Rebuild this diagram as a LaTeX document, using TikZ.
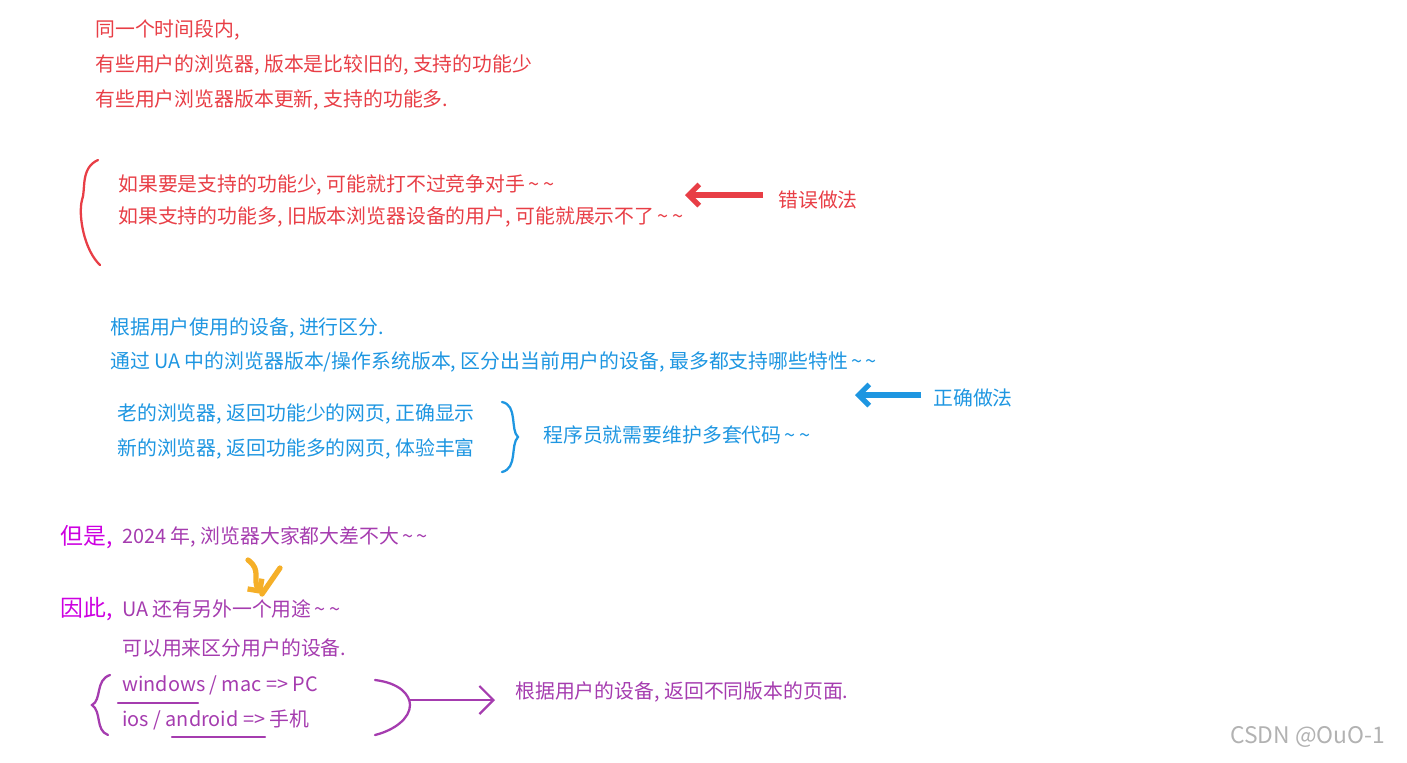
\documentclass[tikz,border=0pt]{standalone}
\usepackage{fontspec}
\setmainfont{Noto Sans CJK SC}
\usetikzlibrary{arrows.meta}
\definecolor{notered}{RGB}{232,62,70}
\definecolor{noteblue}{RGB}{30,150,225}
\definecolor{notepurple}{RGB}{165,60,175}
\definecolor{notemag}{RGB}{205,0,225}
\definecolor{noteorange}{RGB}{245,175,40}
\tikzset{
  txt/.style = {anchor=west, inner sep=0pt, font=\fontsize{11.3}{13}\selectfont},
  pen/.style = {line width=1.3pt, line cap=round}
}
\newcommand\tl{\,\textasciitilde\,\textasciitilde}
\begin{document}
\begin{tikzpicture}[x=0.02cm, y=-0.02cm]
\useasboundingbox (0,0) rectangle (1407,762);
% red part
\node (r1) [txt, notered] at (95,30) {同一个时间段内,};
\node (r2) [txt, notered] at (95,65) {有些用户的浏览器, 版本是比较旧的, 支持的功能少};
\node (r3) [txt, notered] at (95,100) {有些用户浏览器版本更新, 支持的功能多.};
\node (r4) [txt, notered] at (118,185) {如果要是支持的功能少, 可能就打不过竞争对手\tl};
\node (r5) [txt, notered] at (118,217) {如果支持的功能多, 旧版本浏览器设备的用户, 可能就展示不了\tl};
\node (wrong) [txt, notered] at (778,200) {错误做法};
\draw [pen, notered] (98,160) .. controls (80,168) and (86,190) .. (82,200) .. controls (78,215) and (84,250) .. (100,265);
\coordinate (wt) at (685,195);
\draw [notered, line width=3pt, -{Straight Barb[length=6pt]}] (wrong.west) ++(-15,-5) -- (wt);
% blue part
\node (b1) [txt, noteblue] at (110,328) {根据用户使用的设备, 进行区分.};
\node (b2) [txt, noteblue] at (110,362) {通过 UA 中的浏览器版本/操作系统版本, 区分出当前用户的设备, 最多都支持哪些特性\tl};
\node (right) [txt, noteblue] at (933,398) {正确做法};
\coordinate (rt) at (855,395);
\draw [noteblue, line width=3pt, -{Straight Barb[length=6pt]}] (right.west) ++(-12,-3) -- (rt);
\node (b3) [txt, noteblue] at (117,414) {老的浏览器, 返回功能少的网页, 正确显示};
\node (b4) [txt, noteblue] at (117,449) {新的浏览器, 返回功能多的网页, 体验丰富};
\draw [pen, noteblue] (502,402) .. controls (518,405) and (510,430) .. (518,437) .. controls (510,445) and (518,468) .. (502,472);
\node (b5) [txt, noteblue] at (543,435) {程序员就需要维护多套代码\tl};
% purple part
\node (but) [txt, notemag, font=\fontsize{13}{15}\selectfont] at (60,537) {但是,};
\node (p1) [txt, notepurple] at (122,537) {2024 年, 浏览器大家都大差不大\tl};
\node (so) [txt, notemag, font=\fontsize{13}{15}\selectfont] at (60,609) {因此,};
\node (p2) [txt, notepurple] at (122,609) {UA 还有另外一个用途\tl};
\draw [noteorange, line width=3pt, line cap=round, -{Straight Barb[length=5pt]}] (248,560) .. controls (262,570) and (252,580) .. (262,594);
\draw [noteorange, line width=3pt, line cap=round] (262,594) -- (280,568);
\node (p3) [txt, notepurple] at (122,648) {可以用来区分用户的设备.};
\node (p4) [txt, notepurple] at (122,685) {windows / mac => PC};
\node (p5) [txt, notepurple] at (122,720) {ios / android => 手机};
\node (p6) [txt, notepurple] at (515,692) {根据用户的设备, 返回不同版本的页面.};
\draw [pen, notepurple] (110,675) .. controls (95,680) and (102,700) .. (92,705) .. controls (102,712) and (95,730) .. (108,735);
\draw [pen, notepurple] (118,703) -- (198,703);
\draw [pen, notepurple] (172,737) -- (265,737);
\draw [pen, notepurple] (375,680) .. controls (400,683) and (410,695) .. (410,705) .. controls (410,718) and (395,730) .. (375,735);
\coordinate (pt) at (495,700);
\draw [pen, notepurple, -{Straight Barb[length=8pt]}] (410,700) -- (pt);
% watermark
\node (wm) [txt, gray!60, font=\fontsize{13}{15}\selectfont] at (1230,737) {CSDN @OuO-1};
\end{tikzpicture}
\end{document}
